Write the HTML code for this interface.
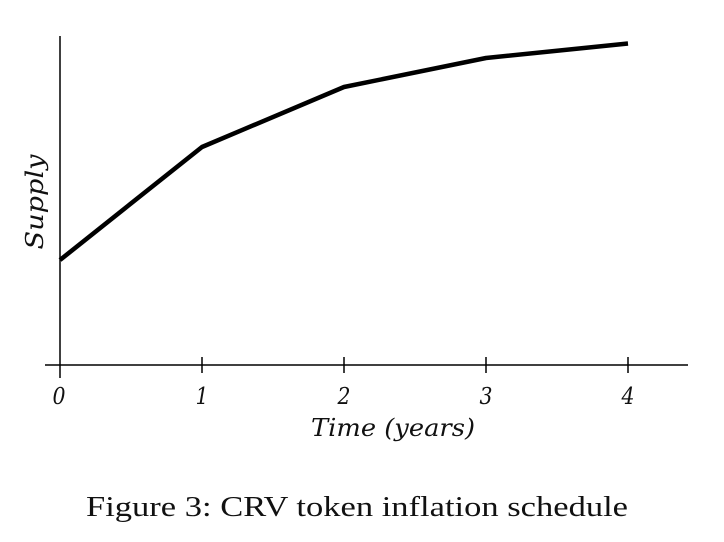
<!DOCTYPE html>
<html>
<head>
<meta charset="utf-8">
<style>
  html,body{margin:0;padding:0;background:#fff;}
  svg{display:block;}
</style>
</head>
<body>
<svg width="724" height="542" viewBox="0 0 724 542" xmlns="http://www.w3.org/2000/svg">
  <rect width="724" height="542" fill="#fff"/>
  <!-- axes -->
  <line x1="60" y1="36" x2="60" y2="378" stroke="#000" stroke-width="1.5"/>
  <line x1="45" y1="365" x2="688" y2="365" stroke="#000" stroke-width="1.5"/>
  <!-- ticks -->
  <g stroke="#000" stroke-width="1.5">
    <line x1="202" y1="357" x2="202" y2="373"/>
    <line x1="344" y1="357" x2="344" y2="373"/>
    <line x1="486" y1="357" x2="486" y2="373"/>
    <line x1="628" y1="357" x2="628" y2="373"/>
  </g>
  <!-- series -->
  <polyline points="60,260 202,147 344,87 486,58 628,43.5" fill="none" stroke="#000" stroke-width="4.5" stroke-linejoin="round"/>
  <!-- tick labels -->
  <g font-family="'DejaVu Serif', 'Liberation Serif', serif" font-style="italic" font-size="23" fill="#111" text-anchor="middle">
    <text x="59" y="404" textLength="13" lengthAdjust="spacingAndGlyphs">0</text>
    <text x="202" y="404" textLength="13" lengthAdjust="spacingAndGlyphs">1</text>
    <text x="344" y="404" textLength="13" lengthAdjust="spacingAndGlyphs">2</text>
    <text x="486" y="404" textLength="13" lengthAdjust="spacingAndGlyphs">3</text>
    <text x="628" y="404" textLength="13" lengthAdjust="spacingAndGlyphs">4</text>
  </g>
  <text x="393" y="436" font-family="'DejaVu Serif', 'Liberation Serif', serif" font-style="italic" font-size="24" fill="#111" text-anchor="middle" textLength="164" lengthAdjust="spacingAndGlyphs">Time (years)</text>
  <text transform="translate(43,202) rotate(-90)" font-family="'DejaVu Serif', 'Liberation Serif', serif" font-style="italic" font-size="24" fill="#111" text-anchor="middle" textLength="95" lengthAdjust="spacingAndGlyphs">Supply</text>
  <!-- caption -->
  <text x="357" y="516" font-family="'Liberation Serif', serif" font-size="29" fill="#111" text-anchor="middle" textLength="542" lengthAdjust="spacingAndGlyphs">Figure 3: CRV token inflation schedule</text>
</svg>
</body>
</html>
